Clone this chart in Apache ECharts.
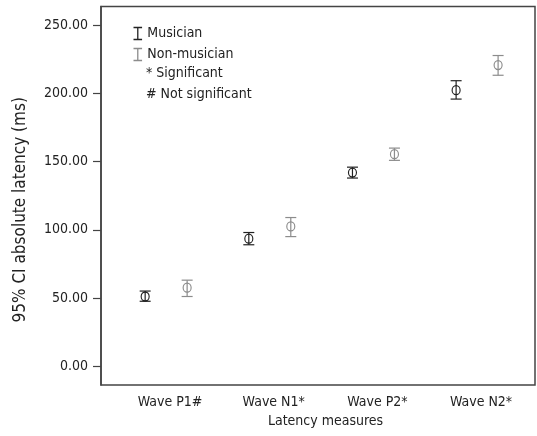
<!DOCTYPE html>
<html>
<head>
<meta charset="utf-8">
<script src="https://cdn.jsdelivr.net/npm/echarts@6/dist/echarts.min.js"></script>
<style>
  html, body { margin: 0; padding: 0; background: #fff; }
  #chart { width: 537px; height: 436px; }
</style>
</head>
<body>
<div id="chart"></div>
<script>
  // 潜伏期数据 (ms)
  var categories = ['Wave P1#', 'Wave N1*', 'Wave P2*', 'Wave N2*'];
  var yTicks = [0, 50, 100, 150, 200, 250];

  var musicianMean = [51, 93.5, 142, 202.5];
  var musicianLow = [47.5, 89, 138, 196];
  var musicianHigh = [55, 98, 146, 209.5];

  var nonMean = [57.5, 102.5, 155.5, 221];
  var nonLow = [51, 95, 151, 213.5];
  var nonHigh = [63, 109, 160, 228];

  var FONT = "'DejaVu Sans Condensed', 'Liberation Sans Narrow', sans-serif";
  var BLACK = '#222';
  var GREY = '#8c8c8c';

  var myChart = echarts.init(document.getElementById('chart'));

  // 每组点相对类别中心的偏移
  function errData(low, high, shift) {
    return low.map(function (v, i) { return [i + shift, v, high[i]]; });
  }
  function meanData(mean, shift) {
    return mean.map(function (v, i) { return [i + shift, v]; });
  }

  function errBar(color) {
    return function (params, api) {
      var x = api.value(0);
      var lo = api.coord([x, api.value(1)]);
      var hi = api.coord([x, api.value(2)]);
      var w = 5.5;
      var style = { stroke: color, lineWidth: 1.2, fill: 'none' };
      return {
        type: 'group',
        children: [
          { type: 'line', shape: { x1: lo[0], y1: lo[1], x2: hi[0], y2: hi[1] }, style: style },
          { type: 'line', shape: { x1: lo[0] - w, y1: lo[1], x2: lo[0] + w, y2: lo[1] }, style: style },
          { type: 'line', shape: { x1: hi[0] - w, y1: hi[1], x2: hi[0] + w, y2: hi[1] }, style: style }
        ]
      };
    };
  }

  var beam = 'path://M0,0 L10,0 M5,0 L5,14 M0,14 L10,14';

  var option = {
    animation: false,
    textStyle: { fontFamily: FONT },
    grid: [
      { left: 101, right: 2, top: 6.5, bottom: 51, show: true, borderColor: '#444', borderWidth: 1.5 },
      { left: 118.2, right: 4.1, top: 6.5, bottom: 51 }
    ],
    legend: {
      orient: 'vertical',
      left: 126,
      top: 20,
      itemWidth: 9,
      itemHeight: 12,
      itemGap: 4,
      textStyle: { fontFamily: FONT, fontSize: 14, color: BLACK },
      data: [
        { name: 'Musician', icon: beam, itemStyle: { color: 'none', borderColor: BLACK, borderWidth: 1.3 } },
        { name: 'Non-musician', icon: beam, itemStyle: { color: 'none', borderColor: GREY, borderWidth: 1.3 } }
      ]
    },
    graphic: [
      { type: 'text', left: 146, top: 66, style: { text: '* Significant', font: '14px ' + FONT, fill: BLACK } },
      { type: 'text', left: 146, top: 87, style: { text: '# Not significant', font: '14px ' + FONT, fill: BLACK } }
    ],
    xAxis: [
      {
        type: 'value',
        gridIndex: 0,
        min: -0.666,
        max: 3.521,
        axisLine: { show: false },
        axisTick: { show: false },
        axisLabel: { show: false },
        splitLine: { show: false }
      },
      {
        type: 'category',
        gridIndex: 1,
        data: categories,
        boundaryGap: true,
        axisLine: { show: false },
        axisTick: { show: false },
        axisLabel: { fontFamily: FONT, fontSize: 14, color: BLACK, margin: 10 },
        name: 'Latency measures',
        nameLocation: 'middle',
        nameGap: 26,
        nameTextStyle: { fontFamily: FONT, fontSize: 14, color: BLACK }
      }
    ],
    yAxis: [
      {
        type: 'value',
        gridIndex: 0,
        min: -14,
        max: 264,
        axisLine: { show: true, onZero: false, lineStyle: { color: '#444', width: 1.5 } },
        axisTick: { show: true, length: 8, customValues: yTicks, lineStyle: { color: '#444', width: 1.2 } },
        axisLabel: {
          customValues: yTicks,
          fontFamily: FONT,
          fontSize: 14,
          color: BLACK,
          margin: 13,
          formatter: function (v) { return v.toFixed(2); }
        },
        splitLine: { show: false },
        name: '95% CI absolute latency (ms)',
        nameLocation: 'middle',
        nameGap: 72,
        nameTextStyle: { fontFamily: FONT, fontSize: 17, color: BLACK, padding: [0, 28, 0, 0] }
      },
      {
        type: 'value',
        gridIndex: 1,
        show: false
      }
    ],
    series: [
      {
        name: 'Musician',
        type: 'custom',
        xAxisIndex: 0, yAxisIndex: 0,
        renderItem: errBar(BLACK),
        itemStyle: { color: BLACK },
        encode: { x: 0, y: [1, 2] },
        data: errData(musicianLow, musicianHigh, -0.24),
        z: 3
      },
      {
        name: 'Musician',
        type: 'scatter',
        xAxisIndex: 0, yAxisIndex: 0,
        symbol: 'circle',
        symbolSize: [8, 9],
        itemStyle: { color: 'rgba(0,0,0,0)', borderColor: BLACK, borderWidth: 1.2, opacity: 1 },
        data: meanData(musicianMean, -0.24),
        z: 4
      },
      {
        name: 'Non-musician',
        type: 'custom',
        xAxisIndex: 0, yAxisIndex: 0,
        renderItem: errBar(GREY),
        itemStyle: { color: GREY },
        encode: { x: 0, y: [1, 2] },
        data: errData(nonLow, nonHigh, 0.165),
        z: 3
      },
      {
        name: 'Non-musician',
        type: 'scatter',
        xAxisIndex: 0, yAxisIndex: 0,
        symbol: 'circle',
        symbolSize: [8, 9],
        itemStyle: { color: 'rgba(0,0,0,0)', borderColor: GREY, borderWidth: 1.2, opacity: 1 },
        data: meanData(nonMean, 0.165),
        z: 4
      }
    ]
  };

  myChart.setOption(option);
</script>
</body>
</html>
